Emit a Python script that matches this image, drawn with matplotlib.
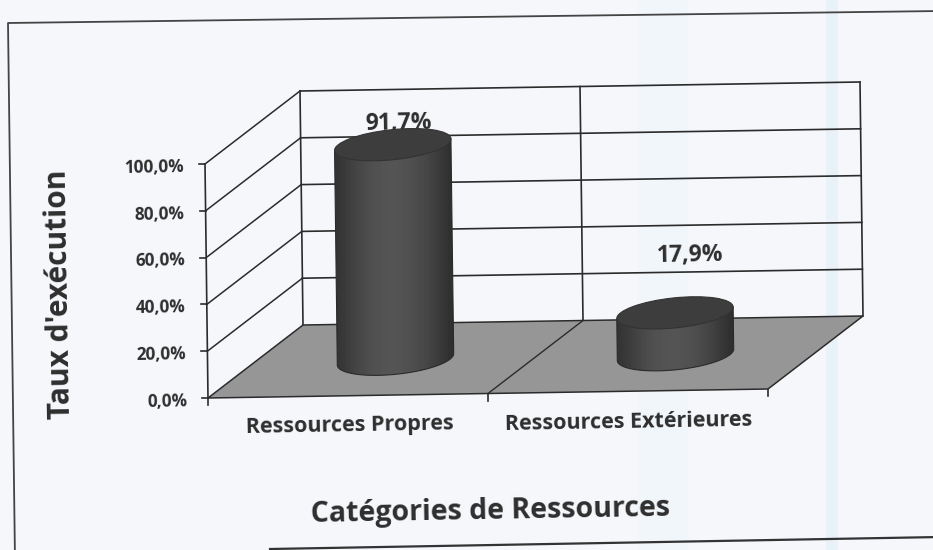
################################################################################
# Taux d'execution par categorie de ressources (3D cylinder look, scanned page)
################################################################################

import matplotlib
matplotlib.use('Agg')
import matplotlib.pyplot as plt
from matplotlib.patches import Polygon, Ellipse
import numpy as np

################################################################################
# Data
################################################################################

categories = ['Ressources Propres', 'Ressources Extérieures']
rates = [91.7, 17.9]
value_ticks = [0, 20, 40, 60, 80, 100]

################################################################################
# Style
################################################################################

plt.rcParams['font.family'] = ['Open Sans', 'DejaVu Sans']

PAPER = '#f5f7fb'
INK = '#2b2b2b'
TEXT = '#2e2e2e'
FLOOR = '#969696'
TILT = 1.0  # the page was scanned slightly rotated

# screen pixels of the 3D box: origin, one category, 1%, full depth
ORIGIN = np.array([208.0, 398.0])
CAT_STEP = np.array([280.0, -4.5])
VAL_STEP = np.array([-0.03, -2.34])
DEPTH_STEP = np.array([95.0, -73.0])

RX = 58.5
RY = 15.0
ELL_ANGLE = -6.0


def proj(cat, value, depth):
    return ORIGIN + cat * CAT_STEP + value * VAL_STEP + depth * DEPTH_STEP


def ellipse_pts(center, t):
    a = np.radians(ELL_ANGLE)
    x = RX * np.cos(t)
    y = RY * np.sin(t)
    return np.column_stack([center[0] + x * np.cos(a) - y * np.sin(a),
                            center[1] + x * np.sin(a) + y * np.cos(a)])


fig = plt.figure(figsize=(9.33, 5.5), dpi=100, facecolor=PAPER)
ax = fig.add_axes([0, 0, 1, 1])
ax.set_xlim(0, 933)
ax.set_ylim(550, 0)
ax.axis('off')

# pale scanner streaks
ax.axvspan(637, 688, color='#f1f6fa', lw=0, zorder=0)
ax.axvspan(826, 838, color='#e9f2f9', lw=0, zorder=0)

# page frame
ax.plot([940, 8, 15], [11, 23, 560], color='#444444', lw=1.3, zorder=1)
ax.plot([270, 940], [549, 537], color='#333333', lw=1.6, zorder=1)

################################################################################
# Box: walls, grid, floor
################################################################################

n_cat = len(categories)

for v in value_ticks:
    back = [proj(0, v, 1), proj(n_cat, v, 1)]
    side = [proj(0, v, 0), proj(0, v, 1)]
    if v > 0:
        ax.plot(*zip(*back), color=INK, lw=1.2, zorder=2)
        ax.plot(*zip(*side), color=INK, lw=1.1, zorder=2)
    tick_end = proj(0, v, 0) + np.array([-6, 0])
    ax.plot(*zip(proj(0, v, 0), tick_end), color=INK, lw=1.2, zorder=2)
    ax.text(*(proj(0, v, 0) + np.array([-21, 3])),
            '{:.1f}%'.format(v).replace('.', ','),
            ha='right', va='center', fontsize=12.3, fontweight='bold',
            color=TEXT, rotation=TILT, rotation_mode='anchor', zorder=3)

ax.plot(*zip(proj(0, 0, 0), proj(0, value_ticks[-1], 0)), color=INK, lw=1.2, zorder=2)
for c in range(n_cat + 1):
    ax.plot(*zip(proj(c, 0, 1), proj(c, value_ticks[-1], 1)), color=INK, lw=1.2, zorder=2)
    ax.plot(*zip(proj(c, 0, 0), proj(c, 0, 0) + np.array([0, 7])), color=INK, lw=1.2, zorder=2)

floor = [proj(0, 0, 0), proj(n_cat, 0, 0), proj(n_cat, 0, 1), proj(0, 0, 1)]
ax.add_patch(Polygon(floor, closed=True, facecolor=FLOOR, edgecolor=INK, lw=1.1, zorder=3))
ax.plot(*zip(proj(1, 0, 0), proj(1, 0, 1)), color=INK, lw=1.0, zorder=4)

################################################################################
# Cylinders
################################################################################

shade = np.array([0.2, 0.25, 0.29, 0.32, 0.33, 0.33, 0.31, 0.28, 0.24, 0.18]).reshape(1, -1)
label_offsets = [(6, -21), (15, -57)]

for i, (name, rate) in enumerate(zip(categories, rates)):
    base = proj(i + 0.5, 0, 0.5)
    top = proj(i + 0.5, rate, 0.5)

    # value label goes behind the cylinder, the first one is partly hidden
    dx, dy = label_offsets[i]
    ax.text(top[0] + dx, top[1] + dy, '{:.1f}%'.format(rate).replace('.', ','),
            ha='center', va='center', fontsize=16.5, fontweight='bold',
            color=TEXT, rotation=TILT, zorder=4)

    outline = np.vstack([ellipse_pts(top, np.array([np.pi])),
                         ellipse_pts(base, np.linspace(np.pi, 0, 60)),
                         ellipse_pts(top, np.array([0.0]))])
    body = Polygon(outline, closed=True, facecolor='none', edgecolor='none', zorder=5)
    ax.add_patch(body)
    im = ax.imshow(shade, cmap='gray', vmin=0, vmax=1, aspect='auto', interpolation='bicubic',
                   extent=[top[0] - RX - 2, base[0] + RX + 2, base[1] + RY + 6, top[1] - RY - 6],
                   zorder=5)
    im.set_clip_path(body)
    ax.add_patch(Polygon(outline, closed=True, facecolor='none', edgecolor='#2a2a2a', lw=0.8, zorder=6))
    ax.add_patch(Ellipse(top, 2 * RX, 2 * RY, angle=ELL_ANGLE,
                         facecolor='#3d3d3d', edgecolor='#333333', lw=0.8, zorder=7))

ax.set_xlim(0, 933)
ax.set_ylim(550, 0)

################################################################################
# Text
################################################################################

cat_pos = [(350, 426), (629, 422)]
for name, (x, y) in zip(categories, cat_pos):
    ax.text(x, y, name, ha='center', va='center', fontsize=15.5, fontweight='bold',
            color=TEXT, rotation=TILT, zorder=8)

ax.text(490, 511, 'Catégories de Ressources', ha='center', va='center', fontsize=20.5,
        fontweight='bold', color=TEXT, rotation=TILT, zorder=8)
ax.text(60, 294, "Taux d'exécution", ha='center', va='center', fontsize=21.5,
        fontweight='bold', color=TEXT, rotation=90 + TILT, zorder=8)

plt.savefig('out.png', dpi=100, facecolor=PAPER)
plt.clf()
